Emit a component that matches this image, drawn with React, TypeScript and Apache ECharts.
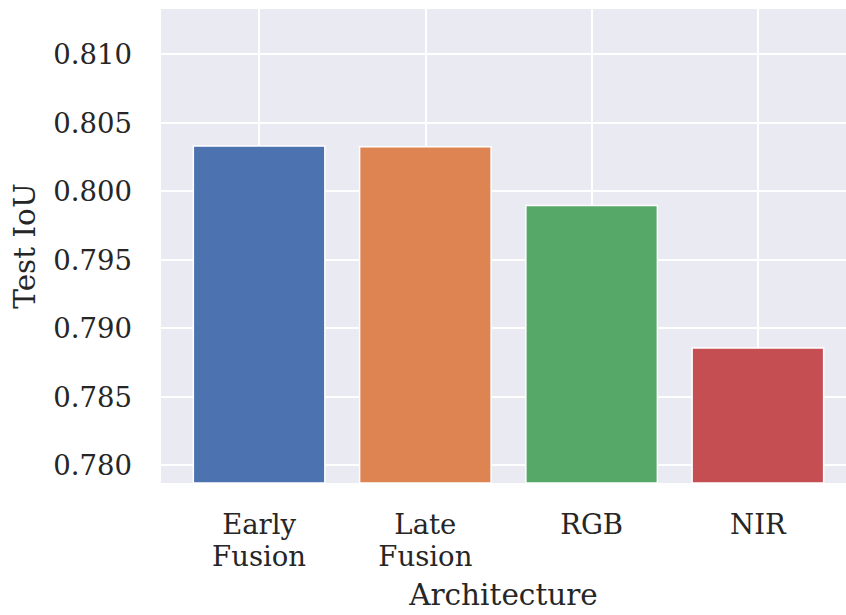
import React, { useEffect, useRef } from "react";
import * as echarts from "echarts";

const categories = ["Early\nFusion", "Late\nFusion", "RGB", "NIR"];
const iouValues = [0.80335, 0.8033, 0.79901, 0.78861];
const barColors = ["#4C72B0", "#DD8452", "#55A868", "#C44E52"];
const yTicks = [0.78, 0.785, 0.79, 0.795, 0.8, 0.805, 0.81];
const xPositions = [0, 1, 2, 3];

const FONT = "DejaVu Serif";
const TXT = "#262626";

export default function App() {
  const ref = useRef<HTMLDivElement>(null);
  useEffect(() => {
    if (!ref.current) return;
    const chart = echarts.init(ref.current, undefined, { renderer: "svg" });
    chart.setOption({
      animation: false,
      grid: {
        left: 161,
        top: 9,
        width: 685,
        height: 481,
        show: true,
        backgroundColor: "#EAEAF2",
        borderWidth: 0,
      },
      xAxis: {
        type: "value",
        min: -0.59,
        max: 3.53,
        name: "Architecture",
        nameLocation: "middle",
        nameGap: 97,
        nameTextStyle: { fontFamily: FONT, fontSize: 29.5, color: TXT },
        axisLine: { show: false },
        axisTick: { show: false, customValues: xPositions },
        splitLine: { show: true, lineStyle: { color: "#ffffff", width: 2 } },
        axisLabel: {
          customValues: xPositions,
          formatter: (v: number) => categories[Math.round(v)] ?? "",
          fontFamily: FONT,
          fontSize: 27.5,
          lineHeight: 32,
          color: TXT,
          margin: 25,
        },
      },
      yAxis: {
        type: "value",
        min: 0.7787,
        max: 0.8133,
        name: "Test IoU",
        nameLocation: "middle",
        nameGap: 121,
        nameTextStyle: { fontFamily: FONT, fontSize: 29.5, color: TXT },
        axisLine: { show: false },
        axisTick: { show: false, customValues: yTicks },
        splitLine: { show: true, lineStyle: { color: "#ffffff", width: 2 } },
        axisLabel: {
          customValues: yTicks,
          formatter: (v: number) => v.toFixed(3),
          fontFamily: FONT,
          fontSize: 27.5,
          color: TXT,
          margin: 29,
        },
      },
      series: [
        {
          type: "bar",
          barWidth: "80%",
          data: iouValues.map((v, i) => ({
            value: [xPositions[i], v],
            itemStyle: { color: barColors[i] },
          })),
          itemStyle: { borderColor: "#ffffff", borderWidth: 1.5 },
        },
      ],
    });
    return () => chart.dispose();
  }, []);
  return <div ref={ref} style={{ width: 846, height: 615, position: "absolute", left: 0, top: 0 }} />;
}
